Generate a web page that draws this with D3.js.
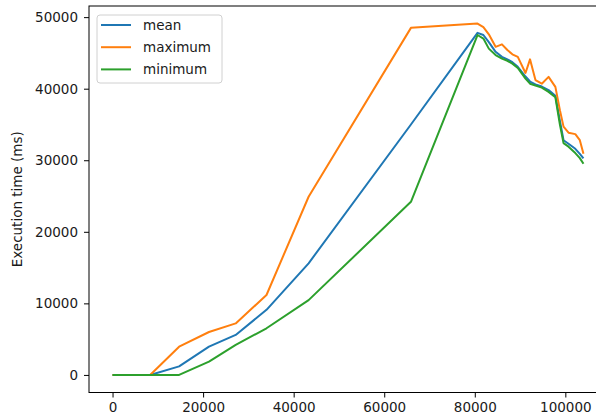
<!DOCTYPE html>
<meta charset="utf-8">
<script src="https://d3js.org/d3.v7.min.js"></script>
<style>
  body { margin: 0; background: #fff; }
  text { font-family: "DejaVu Sans", sans-serif; fill: #1a1a1a; }
</style>
<div id="chart"></div>
<script>

// sample sizes (x) shared by the three series
var sizes = [0, 8300, 14700, 21300, 27200, 34000, 43300, 65900, 80600, 81900, 83100,
  84600, 86000, 87200, 88300, 89500, 91200, 92200, 93400, 94800, 96300, 97800,
  98800, 99600, 100700, 102200, 103200, 104000];

var meanTimes = [0, 0, 1200, 3950, 5590, 9100, 15600, 35000, 47800, 47500, 46500,
  45150, 44450, 44100, 43700, 43050, 41700, 41000, 40600, 40300, 39800, 39000,
  35500, 32800, 32300, 31600, 30900, 30250];

var maxTimes = [0, 0, 3950, 6000, 7200, 11170, 24900, 48500, 49100, 48600, 47600,
  45850, 46200, 45400, 44800, 44450, 42200, 44100, 41200, 40700, 41650, 40250,
  37000, 34700, 33850, 33650, 32800, 30900];

var minTimes = [0, 0, 0, 1860, 4190, 6520, 10450, 24200, 47500, 47000, 45600,
  44700, 44200, 43900, 43500, 42900, 41400, 40700, 40450, 40150, 39550, 38800,
  35000, 32400, 31900, 31000, 30300, 29500];

var seriesNames = ["mean", "maximum", "minimum"];
var seriesColors = ["#1f77b4", "#ff7f0e", "#2ca02c"];
var yTicks = [0, 10000, 20000, 30000, 40000, 50000];
var xTicks = [0, 20000, 40000, 60000, 80000, 100000];

var W = 596, H = 418;
var plotL = 89, plotT = 6, plotR = 607, plotB = 392.5;

var svg = d3.select("#chart").append("svg")
  .attr("width", W).attr("height", H);

// matplotlib-style 5% margins around the data
var xMax = d3.max(sizes), yMax = d3.max(maxTimes);
var x = d3.scaleLinear()
  .domain([-0.05 * xMax, 1.05 * xMax])
  .range([plotL, plotR]);
var y = d3.scaleLinear()
  .domain([-0.05 * yMax, 1.05 * yMax])
  .range([plotB, plotT]);

// x axis
var xAxis = svg.append("g")
  .attr("transform", "translate(0," + plotB + ")")
  .call(d3.axisBottom(x).tickValues(xTicks).tickSizeInner(5).tickSizeOuter(0).tickPadding(5)
    .tickFormat(d3.format("d")));
xAxis.select(".domain").remove();
xAxis.selectAll("line").attr("stroke", "#000").attr("stroke-width", 1);
xAxis.selectAll("text").style("font-size", "13.5px").attr("fill", "#1a1a1a");

// y axis
var yAxis = svg.append("g")
  .attr("transform", "translate(" + plotL + ",0)")
  .call(d3.axisLeft(y).tickValues(yTicks).tickSizeInner(5).tickSizeOuter(0).tickPadding(6)
    .tickFormat(d3.format("d")));
yAxis.select(".domain").remove();
yAxis.selectAll("line").attr("stroke", "#000").attr("stroke-width", 1);
yAxis.selectAll("text").style("font-size", "13.5px").attr("fill", "#1a1a1a");

svg.append("text")
  .attr("transform", "translate(22," + ((plotT + plotB) / 2) + ") rotate(-90)")
  .attr("text-anchor", "middle")
  .style("font-size", "13.5px")
  .text("Execution time (ms)");

// lines
var series = [meanTimes, maxTimes, minTimes];
var line = d3.line()
  .x(function(d, i) { return x(sizes[i]); })
  .y(function(d) { return y(d); });

svg.append("g").selectAll("path")
  .data(series)
  .enter().append("path")
    .attr("d", line)
    .attr("fill", "none")
    .attr("stroke", function(d, i) { return seriesColors[i]; })
    .attr("stroke-width", 2)
    .attr("stroke-linejoin", "round");

// frame
svg.append("rect")
  .attr("x", plotL).attr("y", plotT)
  .attr("width", plotR - plotL).attr("height", plotB - plotT)
  .attr("fill", "none").attr("stroke", "#000").attr("stroke-width", 1);

// legend
var legend = svg.append("g");
legend.append("rect")
  .attr("x", 97).attr("y", 15).attr("width", 125).attr("height", 68)
  .attr("rx", 3)
  .attr("fill", "#fff").attr("fill-opacity", 0.8)
  .attr("stroke", "#d0d0d0").attr("stroke-width", 1);

var items = legend.selectAll("g.item")
  .data(seriesNames)
  .enter().append("g")
    .attr("class", "item")
    .attr("transform", function(d, i) { return "translate(0," + (25 + i * 22.2) + ")"; });
items.append("line")
  .attr("x1", 101).attr("x2", 131)
  .attr("stroke", function(d, i) { return seriesColors[i]; })
  .attr("stroke-width", 2);
items.append("text")
  .attr("x", 143).attr("y", 5)
  .style("font-size", "13.5px")
  .text(function(d) { return d; });

</script>
